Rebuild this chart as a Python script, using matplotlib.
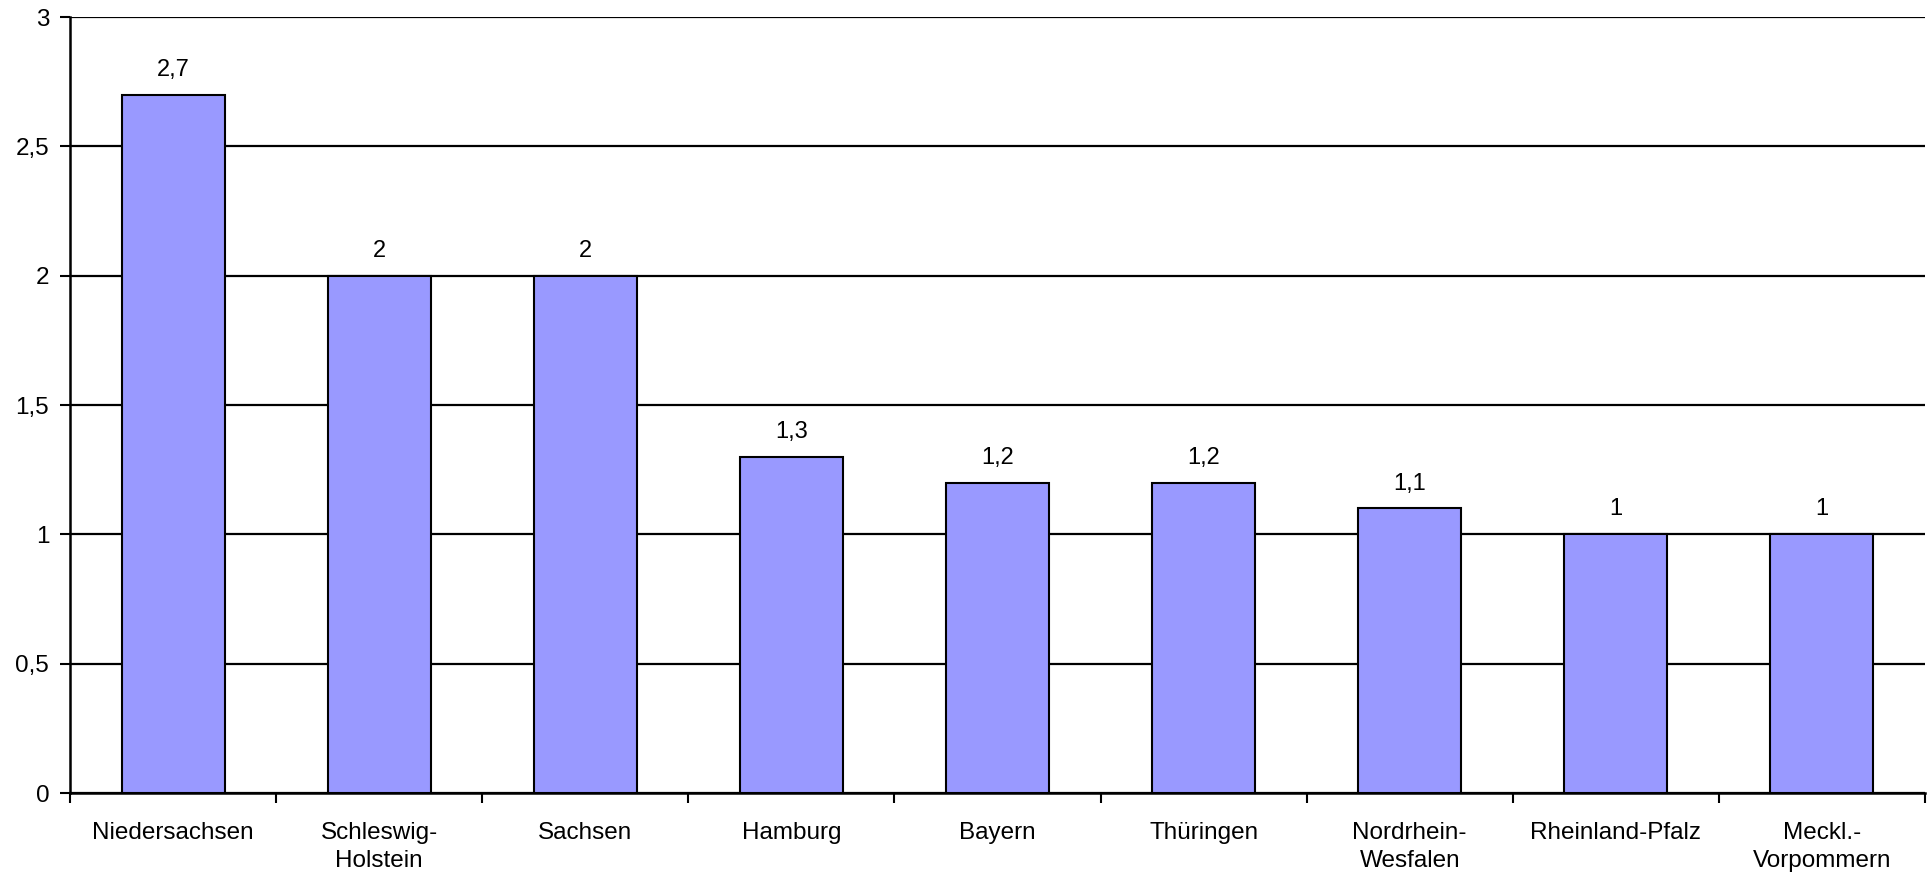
import numpy as np
import matplotlib.pyplot as plt
from matplotlib.ticker import FuncFormatter, FixedLocator

# 数据
laender = ["Niedersachsen", "Schleswig-\nHolstein", "Sachsen", "Hamburg", "Bayern",
           "Thüringen", "Nordrhein-\nWesfalen", "Rheinland-Pfalz", "Meckl.-\nVorpommern"]
werte = [2.7, 2.0, 2.0, 1.3, 1.2, 1.2, 1.1, 1.0, 1.0]
y_ticks = [0, 0.5, 1, 1.5, 2, 2.5, 3]


def komma(v, pos=None):
    # deutsche Schreibweise: Komma statt Punkt
    s = f"{v:g}"
    return s.replace(".", ",")


plt.rcParams['font.family'] = ['Liberation Sans', 'DejaVu Sans']

fig = plt.figure(figsize=(19.3, 8.77), dpi=100)
ax = fig.add_axes([70 / 1930, 1 - 793 / 877, 1855 / 1930, 776 / 877])

x = np.arange(len(laender))
ax.bar(x, werte, width=0.5, color="#9999FF", edgecolor="black", linewidth=1.5, zorder=2)

# Werte über den Balken
for xi, v in zip(x, werte):
    ax.annotate(komma(v), (xi, v), xytext=(0, 10), textcoords="offset points",
                ha="center", va="bottom", fontsize=17)

ax.set_xlim(-0.5, len(laender) - 0.5)
ax.set_ylim(0, 3)
ax.set_yticks(y_ticks)
ax.yaxis.set_major_formatter(FuncFormatter(komma))
ax.yaxis.grid(True, color="black", linewidth=1.6, zorder=0)
ax.set_axisbelow(True)

# Striche an den Kategoriegrenzen, Beschriftung in der Mitte
ax.xaxis.set_major_locator(FixedLocator(np.arange(-0.5, len(laender), 1)))
ax.xaxis.set_major_formatter(FuncFormatter(lambda v, p: ""))
ax.xaxis.set_minor_locator(FixedLocator(x))
ax.set_xticklabels(laender, minor=True)
for lbl in ax.get_xticklabels(minor=True):
    lbl.set_linespacing(1.35)
ax.tick_params(axis="x", which="major", length=7, width=1.5, direction="out")
ax.tick_params(axis="x", which="minor", length=0, pad=21, labelsize=17.5)
ax.tick_params(axis="y", length=7, width=1.5, pad=8, labelsize=17.5)

for side in ["top", "right"]:
    ax.spines[side].set_visible(False)
for side in ["left", "bottom"]:
    ax.spines[side].set_linewidth(1.8)

fig.savefig("out.png", dpi=100)
